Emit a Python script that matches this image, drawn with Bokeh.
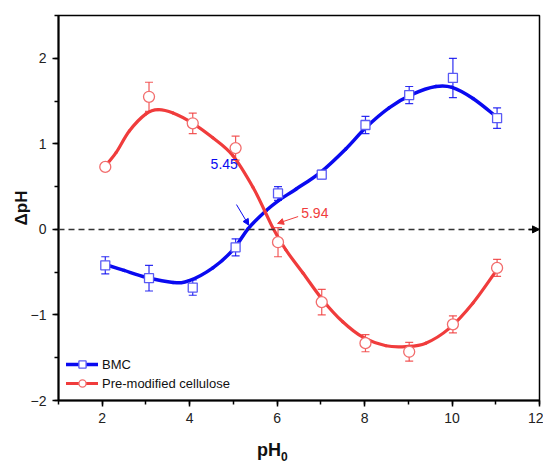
import numpy as np
from bokeh.plotting import figure
from bokeh.layouts import column
from bokeh.models import (Range1d, SingleIntervalTicker, Span, Arrow, NormalHead,
                          Label, Legend, LegendItem, Div)
from bokeh.embed import file_html
from bokeh.resources import INLINE

# ---- data ----
ph0 = [2.07, 3.07, 4.07, 5.05, 6.02, 7.02, 8.02, 9.02, 10.02, 11.03]
bmc_dph = [-0.42, -0.57, -0.68, -0.21, 0.42, 0.64, 1.22, 1.57, 1.77, 1.30]
bmc_err = [0.10, 0.15, 0.09, 0.10, 0.08, 0.05, 0.10, 0.10, 0.23, 0.12]
cell_dph = [0.73, 1.55, 1.24, 0.95, -0.15, -0.85, -1.33, -1.43, -1.11, -0.45]
cell_err = [0.04, 0.17, 0.12, 0.14, 0.17, 0.15, 0.10, 0.11, 0.10, 0.10]

# fitted (smoothed) curves as drawn in the reference
bmc_fit_x = [2.07, 2.5, 3.0, 3.62, 3.99, 4.53, 4.99, 5.34, 5.75, 6.04, 6.43, 7.0,
             7.57, 8.03, 8.56, 9.1, 9.63, 10.0, 10.48, 11.03]
bmc_fit_y = [-0.41, -0.48, -0.56, -0.62, -0.60, -0.45, -0.24, 0.01, 0.22, 0.34, 0.47, 0.67,
             0.94, 1.19, 1.42, 1.58, 1.67, 1.66, 1.53, 1.31]
cell_fit_x = [2.07, 2.32, 2.62, 3.0, 3.28, 3.62, 4.07, 4.53, 4.99, 5.45, 5.73, 5.91,
              6.2, 6.59, 7.05, 7.5, 7.96, 8.49, 8.95, 9.4, 9.93, 10.48, 11.03]
cell_fit_y = [0.74, 0.90, 1.15, 1.35, 1.40, 1.36, 1.24, 1.07, 0.86, 0.49, 0.20, 0.01,
              -0.24, -0.51, -0.83, -1.08, -1.26, -1.36, -1.37, -1.33, -1.16, -0.86, -0.47]

pzc_bmc = 5.45
pzc_cell = 5.94

x_ticks_interval = 2
y_ticks_interval = 1

BLUE = "#0a0af0"
RED = "#f03c3c"
FONT = "Liberation Sans"


def catmull_bezier(xs, ys):
    x = np.asarray(xs, float)
    y = np.asarray(ys, float)
    xp = np.concatenate([[x[0]], x, [x[-1]]])
    yp = np.concatenate([[y[0]], y, [y[-1]]])
    n = len(x) - 1
    i = np.arange(n) + 1
    return dict(
        x0=xp[i], y0=yp[i], x1=xp[i + 1], y1=yp[i + 1],
        cx0=xp[i] + (xp[i + 1] - xp[i - 1]) / 6.0,
        cy0=yp[i] + (yp[i + 1] - yp[i - 1]) / 6.0,
        cx1=xp[i + 1] - (xp[i + 2] - xp[i]) / 6.0,
        cy1=yp[i + 1] - (yp[i + 2] - yp[i]) / 6.0,
    )


p = figure(frame_width=481, frame_height=385,
           x_range=Range1d(1, 12), y_range=Range1d(-2, 2.5),
           output_backend="svg", toolbar_location=None,
           min_border_left=58, min_border_right=4, min_border_top=15, min_border_bottom=30,
           background_fill_color="white", border_fill_color="white")

p.xgrid.visible = False
p.ygrid.visible = False
p.outline_line_color = "black"
p.outline_line_width = 1.5
p.outline_line_alpha = 1.0

p.xaxis.ticker = SingleIntervalTicker(interval=x_ticks_interval, num_minor_ticks=2)
p.yaxis.ticker = SingleIntervalTicker(interval=y_ticks_interval, num_minor_ticks=2)
for ax in (p.xaxis[0], p.yaxis[0]):
    ax.axis_line_width = 2
    ax.axis_line_color = "black"
    ax.major_tick_out = 6
    ax.major_tick_in = 0
    ax.minor_tick_out = 4
    ax.minor_tick_in = 0
    ax.major_tick_line_width = 1.5
    ax.minor_tick_line_width = 1.5
    ax.major_label_text_font = FONT
    ax.major_label_text_font_size = "14px"
    ax.major_label_text_color = "#222222"
    ax.axis_label_text_font = FONT
    ax.axis_label_text_font_style = "bold"
    ax.axis_label_text_font_size = "17px"
    ax.axis_label_text_color = "#111111"

p.yaxis.axis_label = "\u0394pH"
p.xaxis.major_label_standoff = 6
p.yaxis.major_label_standoff = 6
p.yaxis.axis_label_standoff = -3

# zero reference line
p.add_layout(Span(location=0, dimension="width", line_color="#333333",
                  line_dash="6 4", line_width=1.5))
p.add_layout(Arrow(end=NormalHead(size=7, fill_color="black", line_color="black"),
                   x_start=11.75, y_start=0, x_end=12, y_end=0,
                   line_color="black", line_width=1.5))

# smooth curves
bb = catmull_bezier(bmc_fit_x, bmc_fit_y)
cb_r = p.bezier(line_color=BLUE, line_width=3.5, line_cap="round", **bb)
cb = catmull_bezier(cell_fit_x, cell_fit_y)
cc_r = p.bezier(line_color=RED, line_width=3.2, line_cap="round", **cb)

# error bars
for ys, es, col in ((bmc_dph, bmc_err, BLUE), (cell_dph, cell_err, RED)):
    y = np.asarray(ys)
    e = np.asarray(es)
    p.segment(x0=ph0, y0=y - e, x1=ph0, y1=y + e, line_color=col, line_width=1.2, alpha=0.85)
    p.scatter(x=ph0 + ph0, y=list(y - e) + list(y + e), marker="dash", size=8,
              line_color=col, line_width=1.2, alpha=0.85)

# markers
sb = p.scatter(ph0, bmc_dph, marker="square", size=9, fill_color="white",
               line_color="#5a5af5", line_width=1.3)
sc = p.scatter(ph0, cell_dph, marker="circle", size=11, fill_color="white",
               line_color="#f26d6d", line_width=1.3)

legend = Legend(items=[LegendItem(label="BMC", renderers=[cb_r, sb]),
                       LegendItem(label="Pre-modified cellulose", renderers=[cc_r, sc])],
                location="bottom_left", background_fill_alpha=0, border_line_alpha=0,
                label_text_font=FONT, label_text_font_size="13px",
                label_text_color="#111111", glyph_width=32, glyph_height=18,
                label_height=18, spacing=1, padding=2, margin=6, label_standoff=4)
p.add_layout(legend)

# pHpzc annotations
p.add_layout(Arrow(end=NormalHead(size=6, fill_color=BLUE, line_color=BLUE),
                   x_start=pzc_bmc - 0.38, y_start=0.29, x_end=pzc_bmc - 0.1, y_end=0.05,
                   line_color=BLUE, line_width=1))
p.add_layout(Label(x=pzc_bmc - 0.66, y=0.77, text=f"{pzc_bmc:.2f}", text_align="center",
                   text_baseline="middle", text_color=BLUE, text_font=FONT,
                   text_font_size="14px"))
p.add_layout(Arrow(end=NormalHead(size=6, fill_color=RED, line_color=RED),
                   x_start=pzc_cell + 0.54, y_start=0.15, x_end=pzc_cell + 0.07, y_end=0.07,
                   line_color=RED, line_width=1))
p.add_layout(Label(x=pzc_cell + 0.61, y=0.19, text=f"{pzc_cell:.2f}", text_align="left",
                   text_baseline="middle", text_color=RED, text_font=FONT,
                   text_font_size="14px"))

# x-axis title with a real subscript
xtitle = Div(text="pH<sub style='font-size:12px'>0</sub>", width=80, height=26,
             margin=(10, 0, 0, 257),
             styles={"font-family": FONT, "font-weight": "bold", "font-size": "18px",
                     "color": "#111111", "line-height": "20px"})

layout = column(p, xtitle, spacing=0)
open("out.html", "w").write(file_html(layout, INLINE))
